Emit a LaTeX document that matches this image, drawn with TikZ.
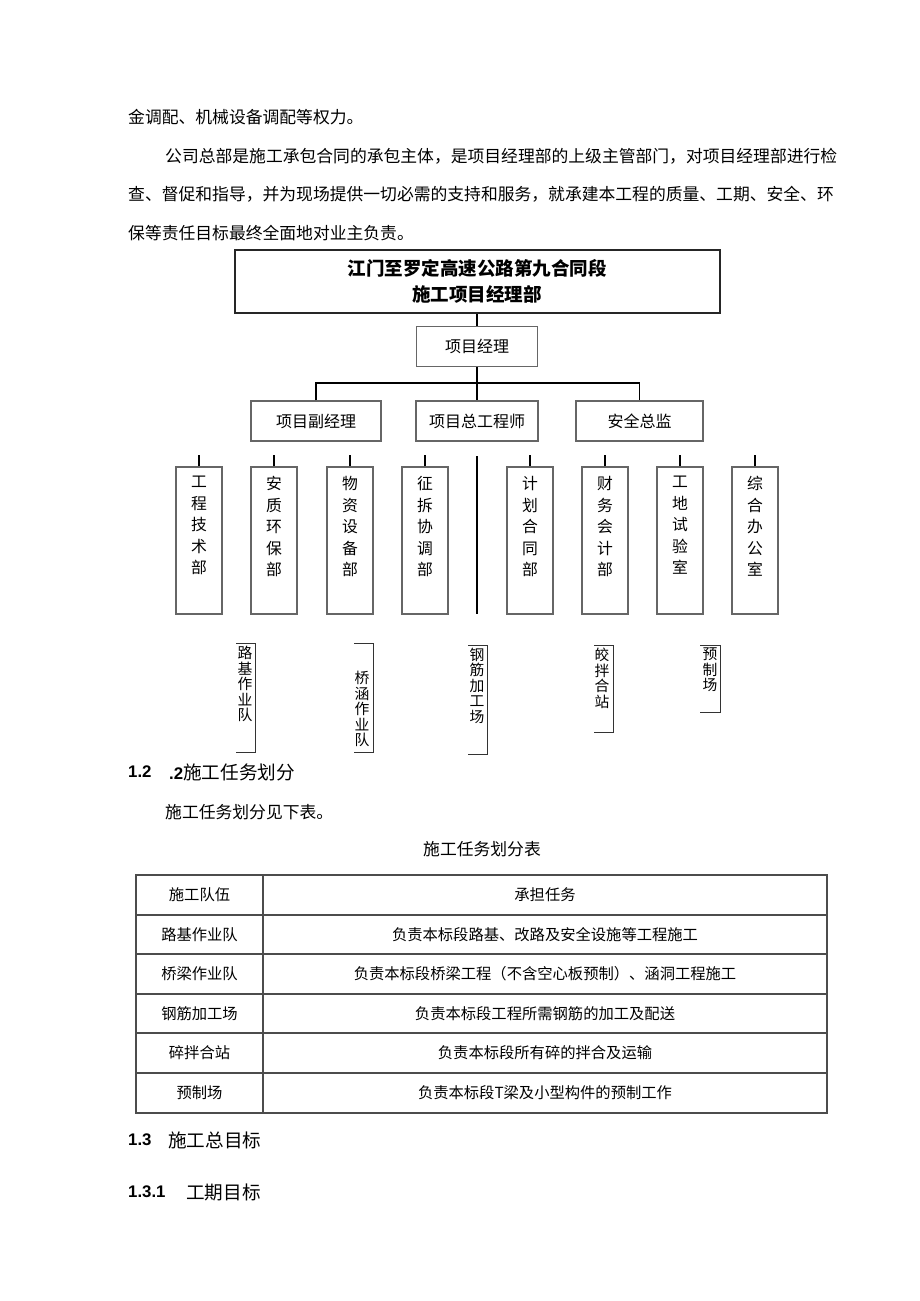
\documentclass[tikz,border=0pt]{standalone}
\usepackage{fontspec}
\setmainfont{Noto Sans CJK SC}
\newfontfamily\latinfont{Liberation Sans}
\usetikzlibrary{positioning}

\begin{document}
\begin{tikzpicture}[x=1pt, y=-1pt, inner sep=0pt,
  body/.style={anchor=west, font=\fontsize{16.8}{20}\selectfont},
  heading/.style={anchor=west, font=\fontsize{18.6}{22}\selectfont},
  secnum/.style={anchor=west, font=\latinfont\bfseries\fontsize{16.8}{20}\selectfont},
  headbox/.style={rectangle, draw=black!85, line width=2pt, minimum width=485, minimum height=63, align=center, font=\bfseries\fontsize{18.5}{26}\selectfont},
  rolebox/.style={rectangle, draw=black!60, line width=1.4pt, minimum height=40, font=\fontsize{16}{20}\selectfont},
  deptbox/.style={rectangle, draw=black!60, line width=1.4pt, minimum width=46, minimum height=147},
  vtext/.style={align=center, font=\fontsize{15.8}{21.5}\selectfont},
  teamtext/.style={align=center, font=\fontsize{14.8}{15.5}\selectfont},
  conn/.style={draw=black, line width=1.6pt},
  brk/.style={draw=black!80, line width=1pt},
  tab/.style={draw=black!70, line width=1.2pt},
  cell/.style={font=\fontsize{15.3}{18}\selectfont}]
  \fill[white] (0,0) rectangle (920,1301);
  \useasboundingbox (0,0) rectangle (920,1301);

  \node[body] (p1) at (128,117) {金调配、机械设备调配等权力。};
  \node[body] (p2) at (165,156) {公司总部是施工承包合同的承包主体，是项目经理部的上级主管部门，对项目经理部进行检};
  \node[body] (p3) at (128,194) {查、督促和指导，并为现场提供一切必需的支持和服务，就承建本工程的质量、工期、安全、环};
  \node[body] (p4) at (128,233) {保等责任目标最终全面地对业主负责。};

  \node[headbox] (top) at (477,281.5) {江门至罗定高速公路第九合同段\\施工项目经理部};
  \node[rolebox, minimum width=121] (pm) at (477,346.5) {项目经理};
  \node[rolebox, minimum width=130] (dpm) at (316,421) {项目副经理};
  \node[rolebox, minimum width=122] (ce) at (477,421) {项目总工程师};
  \node[rolebox, minimum width=127] (so) at (639.5,421) {安全总监};
  \coordinate (hl) at (477,383);
  \draw[conn] (top.south) -- (pm.north);
  \draw[conn] (pm.south) -- (ce.north);
  \draw[conn] (dpm.north) |- (hl) -| (so.north);

  \foreach \x/\t [count=\i] in {199/工\\程\\技\\术\\部, 274/安\\质\\环\\保\\部, 350/物\\资\\设\\备\\部, 425/征\\拆\\协\\调\\部, 530/计\\划\\合\\同\\部, 605/财\\务\\会\\计\\部, 680/工\\地\\试\\验\\室, 755/综\\合\\办\\公\\室} {
    \node[deptbox] (d\i) at (\x,540.5) {};
    \node[vtext, below=10pt of d\i.north] {\t};
    \draw[conn] (d\i.north) -- ++(0,-11);
  }
  \coordinate (sepT) at (477,456);
  \coordinate (sepB) at (477,614);
  \draw[conn, line width=2pt] (sepT) -- (sepB);

  \foreach \l/\r/\t/\b/\cx/\cy/\txt [count=\i] in {236/255/643/752/245/684/路\\基\\作\\业\\队, 354/373/643/752/362/709/桥\\涵\\作\\业\\队, 468/487/645/754/477/685.5/钢\\筋\\加\\工\\场, 594/613/645/732/602/678.5/皎\\拌\\合\\站, 700/720/645/712/710/670/预\\制\\场} {
    \coordinate (b\i t) at (\l,\t);
    \coordinate (b\i c) at (\r,\b);
    \coordinate (b\i b) at (\l,\b);
    \draw[brk] (b\i t) -| (b\i c) -- (b\i b);
    \node[teamtext] (team\i) at (\cx,\cy) {\txt};
  }

  \node[secnum] (s12) at (128,772) {1.2};
  \node[heading] (h12) at (169,772) {{\latinfont\bfseries\fontsize{16.8}{20}\selectfont .2}施工任务划分};
  \node[body] (p5) at (165,812) {施工任务划分见下表。};
  \node[body, anchor=center] (cap) at (482,849) {施工任务划分表};

  \draw[tab] (136,875) rectangle (827,1113);
  \foreach \y in {915,954,994,1033,1073}
    \draw[tab] (136,\y) -- (827,\y);
  \draw[tab] (263,875) -- (263,1113);
  \foreach \y/\a/\b [count=\i] in {895/施工队伍/承担任务, 934.5/路基作业队/负责本标段路基、改路及安全设施等工程施工, 974/桥梁作业队/负责本标段桥梁工程（不含空心板预制）、涵洞工程施工, 1013.5/钢筋加工场/负责本标段工程所需钢筋的加工及配送, 1053/碎拌合站/负责本标段所有碎的拌合及运输, 1093/预制场/负责本标段T梁及小型构件的预制工作} {
    \node[cell] (ca\i) at (199.5,\y) {\a};
    \node[cell] (cb\i) at (545,\y) {\b};
  }

  \node[secnum] (s13) at (128,1140) {1.3};
  \node[heading] (h13) at (168,1140) {施工总目标};
  \node[secnum] (s131) at (128,1192) {1.3.1};
  \node[heading] (h131) at (186,1192) {工期目标};
\end{tikzpicture}
\end{document}
